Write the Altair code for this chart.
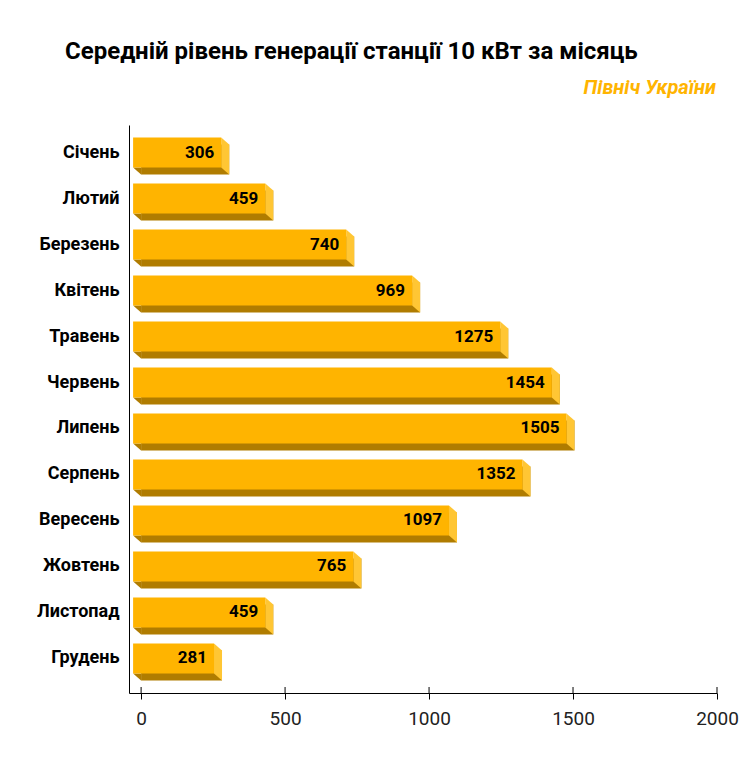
import pandas as pd
import altair as alt

# monthly generation, kWh
months = ['Січень', 'Лютий', 'Березень', 'Квітень', 'Травень', 'Червень',
          'Липень', 'Серпень', 'Вересень', 'Жовтень', 'Листопад', 'Грудень']
kwh = [306, 459, 740, 969, 1275, 1454, 1505, 1352, 1097, 765, 459, 281]
ticks = [0, 500, 1000, 1500, 2000]

title = 'Середній рівень генерації станції 10 кВт за місяць'
subtitle = 'Північ України'

front = '#FFB400'
dark = '#B07C00'
side = '#FFC634'

W, H = 588, 568

df = pd.DataFrame({'month': months, 'kwh': kwh})
tick_df = pd.DataFrame({'v': ticks})
sub_df = pd.DataFrame({'t': [subtitle]})

x = alt.X('kwh:Q', scale=alt.Scale(domain=[-42, 2000], nice=False, zero=False),
          axis=alt.Axis(values=ticks, format='d', title=None, grid=False,
                        tickSize=6, tickColor='black', domainColor='black',
                        labelFontSize=19, labelColor='#222', labelPadding=10,
                        labelFlush=False, labelFont='Roboto'))
y = alt.Y('month:N', sort=months,
          scale=alt.Scale(paddingInner=0.35, paddingOuter=0.35),
          axis=alt.Axis(title=None, ticks=False, domainColor='black',
                        labelFontSize=18, labelFontWeight='bold',
                        labelColor='black', labelPadding=10,
                        labelOffset=-3.5, labelFont='Roboto'))

base = alt.Chart(df)

# back face (dark bottom)
back = base.mark_bar(color=dark, yOffset=3.5, y2Offset=3.5).encode(x=x, y=y)

# small dark corner at the start of the bottom face
corner = base.mark_point(shape='M -8 11.5 L 0 11.5 L 0 18.5 Z', size=4,
                         filled=True, opacity=1, color=dark,
                         strokeWidth=0).encode(x=alt.datum(0), y=y)

# right side face
edge = base.mark_point(shape='M -8 -18.5 L 0 -11.5 L 0 18.5 L -8 11.5 Z', size=4,
                       filled=True, opacity=1, color=side,
                       strokeWidth=0).encode(x=x, y=y)

# front face
face = base.mark_bar(color=front, xOffset=-8, x2Offset=-8,
                     yOffset=-3.5, y2Offset=-3.5).encode(x=x, y=y)

labels = base.mark_text(align='right', baseline='middle', dx=-15, dy=-3.5,
                        font='Roboto', fontSize=17, fontWeight='bold',
                        color='black').encode(x=x, y=y, text='kwh:Q')

# upper half of the tick marks
stubs = alt.Chart(tick_df).mark_rule(color='black').encode(
    x='v:Q', y=alt.value(H - 6), y2=alt.value(H))

sub = alt.Chart(sub_df).mark_text(align='right', baseline='middle',
                                  font='Roboto', fontSize=20, fontWeight='bold',
                                  fontStyle='italic', color=front).encode(
    x=alt.value(W - 1), y=alt.value(-37), text='t:N')

chart = alt.layer(back, corner, edge, face, labels, stubs, sub).properties(
    width=W, height=H,
    title=alt.TitleParams(title, anchor='start', frame='group', dx=-64,
                          offset=14, font='Roboto', fontSize=24,
                          fontWeight='bold', color='black'),
    autosize=alt.AutoSizeParams(type='none'),
    padding={'left': 121, 'top': 117, 'right': 30, 'bottom': 70}
).configure_view(stroke=None)

chart.save('out.html', embed_options={'renderer': 'svg', 'actions': False})
